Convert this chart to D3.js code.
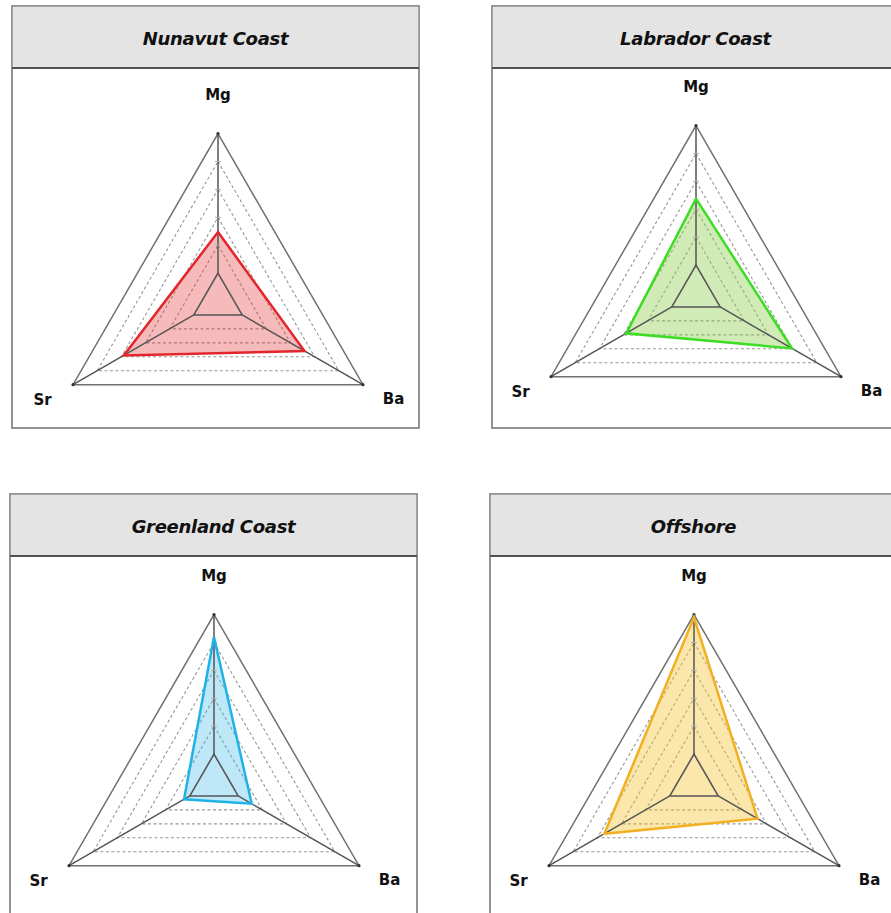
<!DOCTYPE html>
<html>
<head>
<meta charset="utf-8">
<script src="https://cdn.jsdelivr.net/npm/d3@7"></script>
<style>
  body { margin: 0; background: #fff; }
  svg { display: block; }
</style>
</head>
<body>
<svg id="chart" width="891" height="913"></svg>
<script>
// Element axes, clockwise from the top
const elements = ["Mg", "Ba", "Sr"];
const regions = ["Nunavut Coast", "Labrador Coast", "Greenland Coast", "Offshore"];
const mgValues = [2.47, 3.38, 5.2, 5.9];
const baValues = [3.58, 3.97, 1.56, 2.63];
const srValues = [3.9, 2.89, 1.24, 3.71];
const levels = [1, 2, 3, 4, 5, 6];
const strokeColors = ["#e2262b", "#3ddc25", "#1fb2e6", "#f2b021"];
const fillColors = ["#e8383d", "#92d050", "#35b9e8", "#f4c430"];
const fillOpacity = [0.35, 0.42, 0.32, 0.4];

// Panel placement: box origin and chart centre inside the box
const panels = [
  { x: 12,  y: 6,   cx: 206, cy: 295 },
  { x: 492, y: 6,   cx: 204, cy: 287 },
  { x: 10,  y: 494, cx: 204, cy: 288 },
  { x: 490, y: 494, cx: 204, cy: 288 }
];
const boxW = 407, boxH = 422, headH = 62;
const outerR = 167.4;

const svg = d3.select("#chart");
svg.append("rect").attr("width", 891).attr("height", 913).attr("fill", "#fff");

const r = d3.scaleLinear().domain([0, d3.max(levels)]).range([0, outerR]);
const angle = d3.scalePoint().domain(elements).range([0, 2 * Math.PI * 2 / 3]);

const radial = d3.lineRadial()
  .angle(d => angle(d.axis))
  .radius(d => r(d.value))
  .curve(d3.curveLinearClosed);

const pt = (axis, v) => {
  const a = angle(axis);
  return [r(v) * Math.sin(a), -r(v) * Math.cos(a)];
};

const fontStack = "'Century Gothic', 'URW Gothic', 'DejaVu Sans', sans-serif";

regions.forEach((name, i) => {
  const p = panels[i];
  const g = svg.append("g").attr("transform", `translate(${p.x},${p.y})`);

  // Frame and header strip
  g.append("rect").attr("x", 0).attr("y", 0).attr("width", boxW).attr("height", boxH)
    .attr("fill", "#fff").attr("stroke", "#7a7a7a").attr("stroke-width", 1.6);
  g.append("rect").attr("x", 0.8).attr("y", 0.8).attr("width", boxW - 1.6).attr("height", headH - 0.8)
    .attr("fill", "#e4e4e4");
  g.append("line").attr("x1", 0).attr("x2", boxW).attr("y1", headH).attr("y2", headH)
    .attr("stroke", "#505050").attr("stroke-width", 2);
  g.append("text").attr("x", boxW / 2).attr("y", headH - 23)
    .attr("text-anchor", "middle")
    .attr("font-family", fontStack).attr("font-size", 18).attr("font-weight", "bold")
    .attr("font-style", "italic").attr("fill", "#111")
    .attr("letter-spacing", -0.3)
    .text(name);

  const c = g.append("g").attr("transform", `translate(${p.cx},${p.cy})`);

  // Dashed intermediate rings
  levels.slice(1, -1).forEach(l => {
    c.append("path")
      .attr("d", radial(elements.map(e => ({ axis: e, value: l }))))
      .attr("fill", "none").attr("stroke", "#969696").attr("stroke-width", 1.1)
      .attr("stroke-dasharray", "3,2.5");
  });

  // Outer ring
  c.append("path")
    .attr("d", radial(elements.map(e => ({ axis: e, value: d3.max(levels) }))))
    .attr("fill", "none").attr("stroke", "#707070").attr("stroke-width", 1.5);

  // Series polygon fill
  const series = [
    { axis: "Mg", value: mgValues[i] },
    { axis: "Ba", value: baValues[i] },
    { axis: "Sr", value: srValues[i] }
  ];
  c.append("path").attr("d", radial(series))
    .attr("fill", fillColors[i]).attr("fill-opacity", fillOpacity[i]).attr("stroke", "none");

  // Inner ring and spokes
  c.append("path")
    .attr("d", radial(elements.map(e => ({ axis: e, value: levels[0] }))))
    .attr("fill", "none").attr("stroke", "#555").attr("stroke-width", 1.6);
  elements.forEach(e => {
    const a = pt(e, levels[0]), b = pt(e, d3.max(levels));
    c.append("line").attr("x1", a[0]).attr("y1", a[1]).attr("x2", b[0]).attr("y2", b[1])
      .attr("stroke", "#555").attr("stroke-width", 1.5);
    c.append("circle").attr("cx", b[0]).attr("cy", b[1]).attr("r", 1.6).attr("fill", "#333");
  });
  // Tick marks on the Mg axis
  levels.slice(1, -1).forEach(l => {
    const q = pt("Mg", l);
    c.append("line").attr("x1", q[0] - 3).attr("x2", q[0] + 3).attr("y1", q[1]).attr("y2", q[1])
      .attr("stroke", "#b0b0b0").attr("stroke-width", 1);
  });

  // Series outline
  c.append("path").attr("d", radial(series))
    .attr("fill", "none").attr("stroke", strokeColors[i]).attr("stroke-width", 2.5)
    .attr("stroke-linejoin", "miter");

  // Axis labels
  const labelPos = { Mg: [0, -201], Ba: [175.5, 103], Sr: [-175.5, 104] };
  elements.forEach(e => {
    c.append("text").attr("x", labelPos[e][0]).attr("y", labelPos[e][1])
      .attr("text-anchor", "middle")
      .attr("font-family", fontStack).attr("font-size", 15).attr("font-weight", "bold")
      .attr("fill", "#111").text(e);
  });
});
</script>
</body>
</html>
